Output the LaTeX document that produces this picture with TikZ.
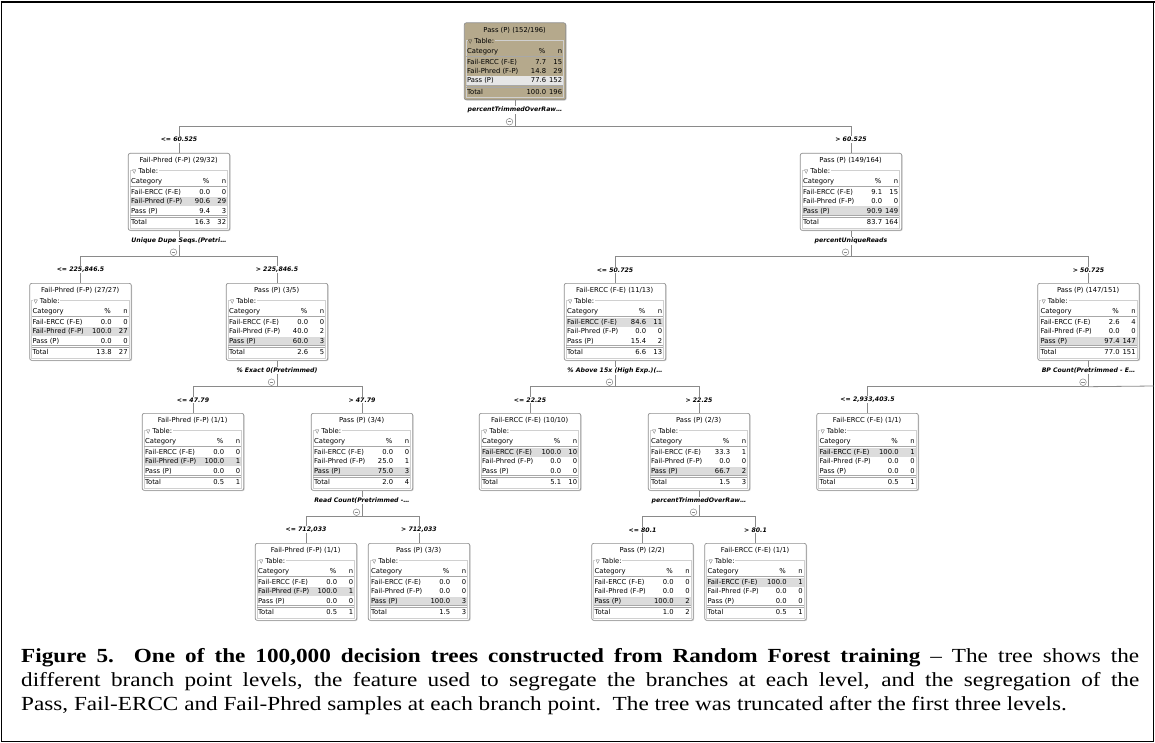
\documentclass[tikz,border=0pt]{standalone}
\usepackage{fontspec}
\setmainfont{Liberation Serif}[FakeStretch=1.16]
\newfontfamily\tfont{DejaVu Sans}
\newfontfamily\lfont{DejaVu Sans}[BoldFont={* Bold},ItalicFont={* Oblique},BoldItalicFont={* Bold Oblique}]
\newfontfamily\symfont{DejaVu Sans}
\definecolor{boxgray}{HTML}{8E8E8E}
\definecolor{linegray}{HTML}{8A8A8A}
\definecolor{tanfill}{HTML}{B5A98C}
\definecolor{hlgray}{HTML}{DCDCDC}
\definecolor{hlroot}{HTML}{E6E6E6}
\definecolor{sepgray}{HTML}{A8A8A8}
\definecolor{grpgray}{HTML}{D0D0D0}
\tikzset{
  tbox/.style={draw=boxgray, line width=0.7pt, rounded corners=2pt, minimum width=101.5pt, minimum height=77pt, inner sep=0pt},
  shadowbox/.style={fill=black!18, rounded corners=2pt, minimum width=101.5pt, minimum height=77pt, inner sep=0pt},
  tt/.style={font=\tfont\fontsize{6.8}{7}\selectfont, inner sep=0pt},
  conn/.style={draw=linegray, line width=0.8pt},
  elab/.style={font=\lfont\bfseries\itshape\fontsize{6.2}{7}\selectfont, fill=white, inner sep=0.8pt},
  minusc/.style={circle, draw=linegray, line width=0.5pt, minimum size=6.6pt, inner sep=0pt, fill=white},
  captext/.style={font=\fontsize{20}{24}\selectfont, inner sep=0pt, anchor=base west}
}
% #1 name, #2 cx, #3 top, #4 header, #5 highlight row, #6 fill, #7 highlight colour
\newcommand\tbox[7]{%
  \node[shadowbox, anchor=north] (#1sh) at (#2+0.9,#3+0.9) {};
  \node[tbox, fill=#6, anchor=north] (#1) at (#2,#3) {};
  \begin{scope}[shift={(#1.north west)}]
    \ifcase#5\or
      \fill[#7] (2.4,35.1) rectangle (99.1,44.1);\or
      \fill[#7] (2.4,44.3) rectangle (99.1,53.3);\or
      \fill[#7] (2.4,53.5) rectangle (99.1,62.2);\fi
    \draw[grpgray, line width=0.5pt] (2,17.5) rectangle (99.5,75);
    \node[tt, anchor=base west, fill=#6, inner xsep=0.8pt] (#1tab) at (3.4,20.6) {{\symfont\fontsize{5}{6}\selectfont ▽} Table:};
    \node[tt, anchor=base] (#1head) at (50.75,9.9) {#4};
    \node[tt, anchor=base west] (#1cat) at (3,30.8) {Category};
    \node[tt, anchor=base east] (#1pc) at (81.6,30.8) {\%};
    \node[tt, anchor=base east] (#1nn) at (98.4,30.8) {n};
    \draw[sepgray, line width=0.5pt] (2.4,33.6) -- (99.1,33.6);
    \node[tt, anchor=base west] (#1r1) at (3,41.6) {Fail-ERCC (F-E)};
    \node[tt, anchor=base west] (#1r2) at (3,50.9) {Fail-Phred (F-P)};
    \node[tt, anchor=base west] (#1r3) at (3,60.1) {Pass (P)};
    \draw[sepgray, line width=0.5pt] (2.4,62.7) -- (99.1,62.7) (2.4,64.3) -- (99.1,64.3);
    \node[tt, anchor=base west] (#1r4) at (3,71.7) {Total};
  \end{scope}
}
% #1 name, then 8 values
\newcommand\tvals[9]{%
  \begin{scope}[shift={(#1.north west)}]
    \node[tt, anchor=base east] (#1a1) at (82.4,41.6) {#2};
    \node[tt, anchor=base east] (#1b1) at (98.4,41.6) {#3};
    \node[tt, anchor=base east] (#1a2) at (82.4,50.9) {#4};
    \node[tt, anchor=base east] (#1b2) at (98.4,50.9) {#5};
    \node[tt, anchor=base east] (#1a3) at (82.4,60.1) {#6};
    \node[tt, anchor=base east] (#1b3) at (98.4,60.1) {#7};
    \node[tt, anchor=base east] (#1a4) at (82.4,71.7) {#8};
    \node[tt, anchor=base east] (#1b4) at (98.4,71.7) {#9};
  \end{scope}
}
% parent, child, label
\newcommand\branch[3]{%
  \draw[conn] (#1.south) -- ++(0,26) -| (#2.north) node[elab, pos=0.75] (#2lab) {#3};
}
% split label and minus circle under a node
\newcommand\splitlab[2]{%
  \node[elab] (#1attr) at ([yshift=-10pt]#1.south) {#2};
  \node[minusc] (#1min) at ([xshift=-5.5pt,yshift=-21.5pt]#1.south) {};
  \draw[linegray, line width=0.5pt] ([xshift=-1.9pt]#1min.center) -- ([xshift=1.9pt]#1min.center);
}
\begin{document}
\begin{tikzpicture}[x=1pt,y=-1pt]
\useasboundingbox (0,0) rectangle (1155,743);
\fill[white] (0,0) rectangle (1155,743);
% frame
\draw[black, line width=1.2pt] (1.5,2) -- (1.5,741.6) -- (1153.5,741.6) -- (1153.5,2);
\draw[black, line width=2pt] (0.5,1.6) -- (1154.5,1.6);

% nodes
\tbox{R}{515}{22.5}{Pass (P) (152/196)}{3}{tanfill}{hlroot}
\tvals{R}{7.7}{15}{14.8}{29}{77.6}{152}{100.0}{196}
\tbox{A}{179}{153}{Fail-Phred (F-P) (29/32)}{2}{white}{hlgray}
\tvals{A}{0.0}{0}{90.6}{29}{9.4}{3}{16.3}{32}
\tbox{B}{851}{153}{Pass (P) (149/164)}{3}{white}{hlgray}
\tvals{B}{9.1}{15}{0.0}{0}{90.9}{149}{83.7}{164}
\tbox{AA}{80.5}{283}{Fail-Phred (F-P) (27/27)}{2}{white}{hlgray}
\tvals{AA}{0.0}{0}{100.0}{27}{0.0}{0}{13.8}{27}
\tbox{AB}{277}{283}{Pass (P) (3/5)}{3}{white}{hlgray}
\tvals{AB}{0.0}{0}{40.0}{2}{60.0}{3}{2.6}{5}
\tbox{BA}{615}{283}{Fail-ERCC (F-E) (11/13)}{1}{white}{hlgray}
\tvals{BA}{84.6}{11}{0.0}{0}{15.4}{2}{6.6}{13}
\tbox{BB}{1088.5}{283}{Pass (P) (147/151)}{3}{white}{hlgray}
\tvals{BB}{2.6}{4}{0.0}{0}{97.4}{147}{77.0}{151}
\tbox{ABA}{193}{413}{Fail-Phred (F-P) (1/1)}{2}{white}{hlgray}
\tvals{ABA}{0.0}{0}{100.0}{1}{0.0}{0}{0.5}{1}
\tbox{ABB}{362}{413}{Pass (P) (3/4)}{3}{white}{hlgray}
\tvals{ABB}{0.0}{0}{25.0}{1}{75.0}{3}{2.0}{4}
\tbox{BAA}{530}{413}{Fail-ERCC (F-E) (10/10)}{1}{white}{hlgray}
\tvals{BAA}{100.0}{10}{0.0}{0}{0.0}{0}{5.1}{10}
\tbox{BAB}{699}{413}{Pass (P) (2/3)}{3}{white}{hlgray}
\tvals{BAB}{33.3}{1}{0.0}{0}{66.7}{2}{1.5}{3}
\tbox{BBA}{867.5}{413}{Fail-ERCC (F-E) (1/1)}{1}{white}{hlgray}
\tvals{BBA}{100.0}{1}{0.0}{0}{0.0}{0}{0.5}{1}
\tbox{ABBA}{306}{543}{Fail-Phred (F-P) (1/1)}{2}{white}{hlgray}
\tvals{ABBA}{0.0}{0}{100.0}{1}{0.0}{0}{0.5}{1}
\tbox{ABBB}{419}{543}{Pass (P) (3/3)}{3}{white}{hlgray}
\tvals{ABBB}{0.0}{0}{0.0}{0}{100.0}{3}{1.5}{3}
\tbox{BABA}{642.5}{543}{Pass (P) (2/2)}{3}{white}{hlgray}
\tvals{BABA}{0.0}{0}{0.0}{0}{100.0}{2}{1.0}{2}
\tbox{BABB}{755.5}{543}{Fail-ERCC (F-E) (1/1)}{1}{white}{hlgray}
\tvals{BABB}{100.0}{1}{0.0}{0}{0.0}{0}{0.5}{1}

% connectors
\branch{R}{A}{<= 60.525}
\branch{R}{B}{> 60.525}
\branch{A}{AA}{<= 225,846.5}
\branch{A}{AB}{> 225,846.5}
\branch{B}{BA}{<= 50.725}
\branch{B}{BB}{> 50.725}
\branch{AB}{ABA}{<= 47.79}
\branch{AB}{ABB}{> 47.79}
\branch{BA}{BAA}{<= 22.25}
\branch{BA}{BAB}{> 22.25}
\branch{BB}{BBA}{<= 2,933,403.5}
\coordinate (BBright) at (1153.5,386);
\draw[conn] (BB.south) -- ++(0,26) -- (BBright);
\branch{ABB}{ABBA}{<= 712,033}
\branch{ABB}{ABBB}{> 712,033}
\branch{BAB}{BABA}{<= 80.1}
\branch{BAB}{BABB}{> 80.1}

% split labels
\splitlab{R}{percentTrimmedOverRaw…}
\splitlab{A}{Unique Dupe Seqs.(Pretri…}
\splitlab{B}{percentUniqueReads}
\splitlab{AB}{\% Exact 0(Pretrimmed)}
\splitlab{BA}{\% Above 15x (High Exp.)(…}
\splitlab{BB}{BP Count(Pretrimmed - E…}
\splitlab{ABB}{Read Count(Pretrimmed -…}
\splitlab{BAB}{percentTrimmedOverRaw…}

% caption
\node[captext] (cap1) at (21,662) {\makebox[1118pt][s]{\textbf{Figure 5.\ \ One of the 100,000 decision trees constructed from Random Forest training} – The tree shows the}};
\node[captext] (cap2) at (21,686) {\makebox[1118pt][s]{different branch point levels, the feature used to segregate the branches at each level, and the segregation of the}};
\node[captext] (cap3) at (21,710) {Pass, Fail-ERCC and Fail-Phred samples at each branch point.\ \ The tree was truncated after the first three levels.};
\end{tikzpicture}
\end{document}
